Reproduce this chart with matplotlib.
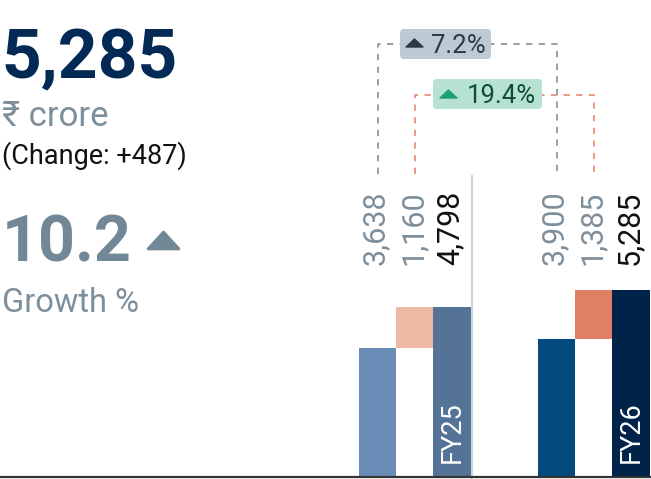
import matplotlib.pyplot as plt
from matplotlib.patches import FancyBboxPatch, Polygon
from matplotlib.transforms import blended_transform_factory

plt.rcParams['font.family'] = ['Roboto', 'DejaVu Sans']

years = ['FY25', 'FY26']
base = [3638, 3900]      # first bar of each group
added = [1160, 1385]     # floating bar stacked on the first
total = [4798, 5285]     # total bar
growth_base = 7.2
growth_added = 19.4
growth_total = 10.2
change = 487

base_colors = ['#6a8db8', '#034a7e']
added_colors = ['#edb9a5', '#e07f66']
total_colors = ['#557396', '#00234a']

W, H = 651, 479
fig = plt.figure(figsize=(W / 100, H / 100), dpi=100)

# bar axes over the whole figure, one unit = one bar width
ax = fig.add_axes([0, 0, 1, 1])
ax.set_xlim(-10.15, 7.35)
ax.set_ylim(-56.5, 13482)
ax.axis('off')

group_x = [0, 4.81]
for i, gx in enumerate(group_x):
    ax.bar(gx, base[i], width=1, color=base_colors[i], lw=0)
    ax.bar(gx + 1, added[i], bottom=base[i], width=1, color=added_colors[i], lw=0)
    ax.bar(gx + 2, total[i], width=1, color=total_colors[i], lw=0)

ax.axhline(0, color='#333333', lw=1.6, zorder=5)
ax.axvline(group_x[0] + 2.53, ymin=0, ymax=1 - 176 / H, color='#c9d5e1', lw=1.5)

bt = blended_transform_factory(ax.transData, ax.transAxes)

# value labels above each group
for i, gx in enumerate(group_x):
    vals = [base[i], added[i], total[i]]
    cols = ['#7d8f9b', '#7d8f9b', '#111111']
    for j in range(3):
        ax.text(gx + j - 0.05, 1 - 265 / H, f'{vals[j]:,}', transform=bt, rotation=90,
                ha='center', va='bottom', fontsize=22, color=cols[j])
    ax.text(gx + 2, 1 - 463 / H, years[i], transform=bt, rotation=90,
            ha='center', va='bottom', fontsize=19.5, color='white')

# dashed connectors between the groups
y0 = 1 - 174 / H
yg = 1 - 44 / H
ys = 1 - 95 / H
ax.plot([group_x[0], group_x[0], group_x[1], group_x[1]], [y0, yg, yg, y0],
        transform=bt, color='#8a9aa6', lw=1.3, dashes=(3.5, 3.5))
ax.plot([group_x[0] + 1, group_x[0] + 1, group_x[1] + 1, group_x[1] + 1], [y0, ys, ys, y0],
        transform=bt, color='#e8937a', lw=1.3, dashes=(3.5, 3.5))

# overlay in pixel coordinates for the text block and badges
ov = fig.add_axes([0, 0, 1, 1], zorder=10)
ov.set_xlim(0, W)
ov.set_ylim(H, 0)
ov.axis('off')
ov.patch.set_alpha(0)

ov.add_patch(FancyBboxPatch((400, 29), 91, 30, boxstyle='round,pad=0,rounding_size=4',
                            fc='#bccad3', ec='none'))
ov.add_patch(Polygon([(406, 47), (414.5, 39), (423, 47)], closed=True, fc='#2b3a42', ec='#2b3a42',
                     lw=1, joinstyle='round'))
ov.text(431, 53, f'{growth_base}%', fontsize=18.5, color='#2b3a42', ha='left', va='baseline')

ov.add_patch(FancyBboxPatch((433, 79), 109, 30, boxstyle='round,pad=0,rounding_size=4',
                            fc='#b7e1d1', ec='none'))
ov.add_patch(Polygon([(440, 98), (448.5, 90), (457, 98)], closed=True, fc='#1aa071', ec='#1aa071',
                     lw=1, joinstyle='round'))
ov.text(467, 103, f'{growth_added}%', fontsize=18.5, color='#0f4d3a', ha='left', va='baseline')

ov.text(1, 78, f'{total[1]:,}', fontsize=50, fontweight='bold', color='#032a55', va='baseline')
ov.text(2, 126, '₹ crore', fontsize=25, color='#7d8f9b', va='baseline')
ov.text(2, 164, f'(Change: +{change})', fontsize=19.5, color='#111111', va='baseline')
ov.text(2, 262, f'{growth_total}', fontsize=46.5, fontweight='bold', color='#738896', va='baseline')
ov.add_patch(Polygon([(148, 249), (163.5, 232), (179, 249)], closed=True, fc='#738896', ec='#738896',
                     lw=2, joinstyle='round'))
ov.text(2, 312, 'Growth %', fontsize=23.5, color='#7d8f9b', va='baseline')

fig.savefig('out.png', dpi=100)
